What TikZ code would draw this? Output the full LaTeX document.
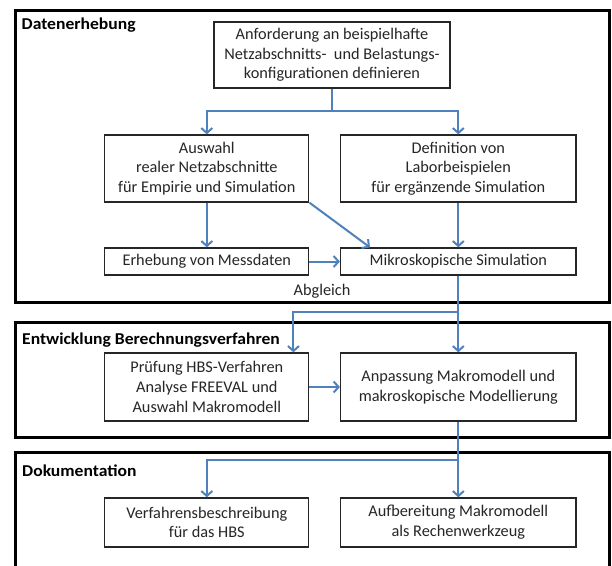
\documentclass[tikz,border=0pt]{standalone}
\usepackage{fontspec}
\setmainfont{Carlito}
\newfontfamily\titlefont{Carlito}[FakeStretch=1.06]
\usetikzlibrary{arrows.meta,calc}
\definecolor{arrowblue}{HTML}{4F81BD}
\begin{document}
\begin{tikzpicture}[x=1pt,y=-1pt,
  frame/.style={draw=black, line width=3pt},
  box/.style={draw=black!85, line width=1.3pt, align=center, inner sep=0pt, font=\fontsize{16.3}{19.7}\selectfont, text=black!85},
  lbox/.style={box, minimum width=204pt},
  rbox/.style={box, minimum width=235.4pt},
  title/.style={anchor=base west, font=\titlefont\bfseries\fontsize{16.6}{19}\selectfont, inner sep=0pt, text=black},
  plain/.style={anchor=base, font=\fontsize{16.3}{19}\selectfont, inner sep=0pt, text=black!85},
  flow/.style={draw=arrowblue, line width=2pt, -{Straight Barb[length=5pt,width=11pt,line width=2pt]}},
  wire/.style={draw=arrowblue, line width=2pt}
]
\useasboundingbox (0,0) rectangle (612,565);
\clip (0,0) rectangle (612,565);
\fill[white] (0,0) rectangle (612,565);

% frames
\draw[frame] (15,10) rectangle (609,302);
\draw[frame] (15,322) rectangle (609,437);
\draw[frame] (15,452) rectangle (609,600);

\node[title] (t1) at (21.5,29.3) {Datenerhebung};
\node[title] (t2) at (22,344) {Entwicklung Berechnungsverfahren};
\node[title] (t3) at (22,476.5) {Dokumentation};

% boxes
\node[box, minimum width=236pt, minimum height=66pt] (A) at (332,55)
  {Anforderung an beispielhafte\\Netzabschnitts-\ \ und Belastungs-\\konfigurationen definieren};
\node[lbox, minimum height=67pt] (B) at (206.8,168.5)
  {Auswahl\\realer Netzabschnitte\\für Empirie und Simulation};
\node[rbox, minimum height=67pt] (C) at (458.3,168.5)
  {Definition von\\Laborbeispielen\\für ergänzende Simulation};
\node[lbox, minimum height=27pt] (D) at (206.8,261.5) {Erhebung von Messdaten};
\node[rbox, minimum height=27pt] (E) at (458.3,261.5) {Mikroskopische Simulation};
\node[lbox, minimum height=68pt] (F) at (206.8,387)
  {Prüfung HBS-Verfahren\\Analyse FREEVAL und\\Auswahl Makromodell};
\node[rbox, minimum height=68pt] (G) at (458.3,387)
  {Anpassung Makromodell und\\makroskopische Modellierung};
\node[lbox, minimum height=49pt] (H) at (206.8,522.5)
  {Verfahrensbeschreibung\\für das HBS};
\node[rbox, minimum height=49pt] (I) at (458.3,522.5)
  {Aufbereitung Makromodell\\als Rechenwerkzeug};

\node[plain] (abg) at (322,295) {Abgleich};

% connectors
\coordinate (s1) at ($(A.south)+(0,22)$);
\draw[wire] (A.south) -- (s1);
\draw[flow] (s1) -| (B.north);
\draw[flow] (s1) -| (C.north);
\draw[flow] (B) -- (D);
\draw[flow] (C) -- (E);
\draw[flow] (B.south east) -- ($(E.north west)+(30,0)$);
\draw[flow] (D) -- (E);

\coordinate (s2) at ($(E.south)+(0,36.5)$);
\coordinate (fN) at ($(F.north east)+(-16,0)$);
\draw[wire] (E.south) -- (s2);
\draw[flow] (s2) -| (fN);
\draw[flow] (s2) -- (G.north);
\draw[flow] (F) -- (G);

\coordinate (s3) at ($(G.south)+(0,38)$);
\draw[wire] (G.south) -- (s3);
\draw[flow] (s3) -| (H.north);
\draw[flow] (s3) -- (I.north);
\end{tikzpicture}
\end{document}
